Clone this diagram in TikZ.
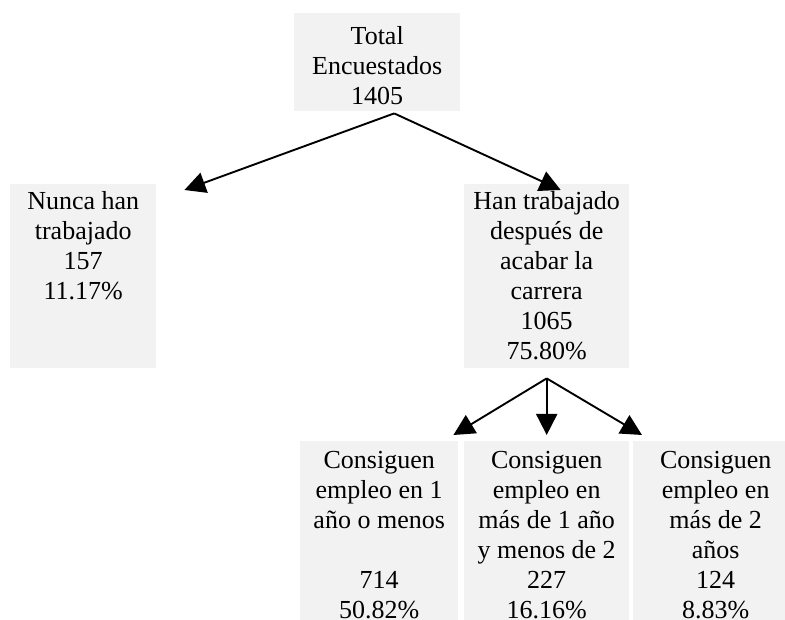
\documentclass[tikz,border=0pt]{standalone}
\usepackage{fontspec}
\setmainfont{Liberation Serif}
\usetikzlibrary{arrows.meta}
\definecolor{grisclaro}{HTML}{F2F2F2}
% texto alineado arriba dentro de una caja de ancho y alto fijos
\newcommand{\txtcaja}[4]{\parbox[t][#2][t]{#1}{\centering\rule{0pt}{#3}#4}}
\begin{document}
\begin{tikzpicture}[x=1pt, y=-1pt,
    caja/.style={fill=grisclaro, inner sep=0pt, anchor=north west,
        font=\fontsize{26pt}{30pt}\selectfont},
    flecha/.style={-{Triangle[length=21pt,width=21pt]}, line width=1.9pt}]
    \useasboundingbox (0,0) rectangle (785,620);
    \clip (0,0) rectangle (785,620);

    \node[caja] (total) at (294,13) {\txtcaja{166pt}{98pt}{31pt}{Total\\Encuestados\\1405}};

    \node[caja] (nunca) at (10,184) {\txtcaja{146pt}{184pt}{25pt}{Nunca han\\trabajado\\157\\11.17\%}};
    \node[caja] (trabajado) at (464,184) {\txtcaja{165pt}{184pt}{25pt}{Han trabajado\\después de\\acabar la\\carrera\\1065\\75.80\%}};

    \node[caja] (menosuno) at (300,441) {\txtcaja{158pt}{190pt}{27pt}{Consiguen\\empleo en 1\\año o menos\\\mbox{}\\714\\50.82\%}};
    \node[caja] (entre) at (464,441) {\txtcaja{165pt}{190pt}{27pt}{Consiguen\\empleo en\\más de 1 año\\y menos de 2\\227\\16.16\%}};
    \node[caja] (masdos) at (633,441) {\txtcaja{165pt}{190pt}{27pt}{Consiguen\\empleo en\\más de 2\\años\\124\\8.83\%}};

    \draw[flecha] ([xshift=17pt,yshift=-2pt]total.south) -- ([xshift=28pt,yshift=-6pt]nunca.north east);
    \draw[flecha] ([xshift=17pt,yshift=-2pt]total.south) -- ([xshift=14pt,yshift=-6pt]trabajado.north);

    \draw[flecha] ([yshift=-10pt]trabajado.south) -- ([xshift=-5pt,yshift=6pt]menosuno.north east);
    \draw[flecha] ([yshift=-10pt]trabajado.south) -- ([yshift=6pt]entre.north);
    \draw[flecha] ([yshift=-10pt]trabajado.south) -- ([xshift=9pt,yshift=6pt]masdos.north west);
\end{tikzpicture}
\end{document}
